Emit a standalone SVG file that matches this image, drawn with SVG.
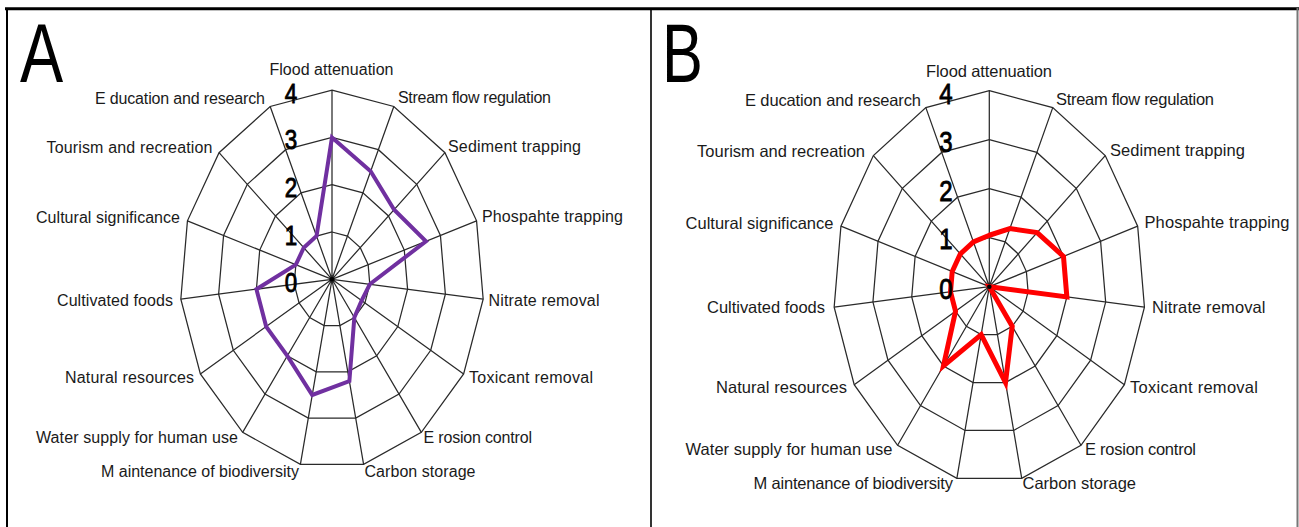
<svg xmlns="http://www.w3.org/2000/svg" xmlns:xlink="http://www.w3.org/1999/xlink" width="1299" height="527" viewBox="0 0 1299 527">
<style>
.grid{fill:none;stroke:#2a2a2a;stroke-width:1.25;vector-effect:non-scaling-stroke}
.lbl{font-family:"Liberation Sans",Arial,sans-serif;font-size:16px;fill:#1a1a1a}
.lblb{font-family:"Liberation Sans",Arial,sans-serif;font-size:16.5px;fill:#1a1a1a}
.num{font-family:"Liberation Sans",Arial,sans-serif;fill:#000;stroke:#000;stroke-width:0.9;text-anchor:middle}
.big{font-family:"Liberation Sans",Arial,sans-serif;font-size:84px;fill:#000}
.dA{fill:none;stroke:#7030A0;stroke-width:4;stroke-linejoin:miter;vector-effect:non-scaling-stroke}
.dB{fill:none;stroke:#FF0000;stroke-width:5;stroke-linejoin:miter;vector-effect:non-scaling-stroke}
.frame{stroke:#000;fill:none}
</style>
<defs>
<polygon id="ring" class="grid" points="0,-1 0.4067,-0.9135 0.7431,-0.6691 0.9511,-0.309 0.9945,0.1045 0.866,0.5 0.5878,0.809 0.2079,0.9781 -0.2079,0.9781 -0.5878,0.809 -0.866,0.5 -0.9945,0.1045 -0.9511,-0.309 -0.7431,-0.6691 -0.4067,-0.9135"/>
<path id="spokes" class="grid" d="M0,0L0,-4M0,0L1.627,-3.6542M0,0L2.9726,-2.6765M0,0L3.8042,-1.2361M0,0L3.9781,0.4181M0,0L3.4641,2M0,0L2.3512,3.2361M0,0L0.8316,3.9126M0,0L-0.8316,3.9126M0,0L-2.3512,3.2361M0,0L-3.4641,2M0,0L-3.9781,0.4181M0,0L-3.8042,-1.2361M0,0L-2.9726,-2.6765M0,0L-1.627,-3.6542"/>
<g id="grid">
<use xlink:href="#ring"/>
<use xlink:href="#ring" transform="scale(2)"/>
<use xlink:href="#ring" transform="scale(3)"/>
<use xlink:href="#ring" transform="scale(4)"/>
<use xlink:href="#spokes"/>
</g>
</defs>
<rect width="1299" height="527" fill="#fff"/>
<g id="frame">
<line class="frame" x1="5" y1="8.7" x2="1299" y2="8.7" stroke-width="3"/>
<line class="frame" x1="7" y1="8" x2="7" y2="527" stroke-width="2"/>
<line class="frame" x1="651" y1="8" x2="651" y2="527" stroke-width="1.6"/>
<line x1="1297.5" y1="8" x2="1297.5" y2="527" stroke="#777" stroke-width="2"/>
</g>
<g id="panel-A">
<text class="big" transform="translate(20,81.5) scale(0.77,1)">A</text>
<g id="chart-A" transform="translate(332,279.3) scale(38,47.3)">
<use xlink:href="#grid"/>
<polygon class="dA" points="0,-3 1.0169,-2.2839 1.6349,-1.4721 2.4728,-0.8035 0.9945,0.1045 0.7794,0.45 0.5878,0.809 0.4574,2.1519 -0.5198,2.4454 -1.1756,1.618 -1.7321,1 -1.989,0.2091 -0.9511,-0.309 -0.7431,-0.6691 -0.4067,-0.9135"/>
</g>
<circle cx="332" cy="279.3" r="2.3" fill="#000"/>
<g id="scale-A">
<text class="num" font-size="28" transform="translate(291,102.5) scale(0.8,1)">4</text>
<text class="num" font-size="28" transform="translate(291,149) scale(0.8,1)">3</text>
<text class="num" font-size="28" transform="translate(291,196.5) scale(0.8,1)">2</text>
<text class="num" font-size="28" transform="translate(291,244.5) scale(0.8,1)">1</text>
<text class="num" font-size="28" transform="translate(291,291.5) scale(0.8,1)">0</text>
</g>
<g id="labels-A">
<text class="lbl" x="269.5" y="75" textLength="124">Flood attenuation</text>
<text class="lbl" x="95" y="104" textLength="170">E ducation and research</text>
<text class="lbl" x="398" y="103" textLength="153">Stream flow regulation</text>
<text class="lbl" x="46.5" y="153" textLength="166">Tourism and recreation</text>
<text class="lbl" x="448" y="152" textLength="133">Sediment trapping</text>
<text class="lbl" x="36" y="223" textLength="144">Cultural significance</text>
<text class="lbl" x="482" y="222" textLength="141">Phospahte trapping</text>
<text class="lbl" x="57" y="306" textLength="116">Cultivated foods</text>
<text class="lbl" x="488.5" y="306" textLength="111">Nitrate removal</text>
<text class="lbl" x="65" y="383" textLength="129">Natural resources</text>
<text class="lbl" x="469" y="383" textLength="124">Toxicant removal</text>
<text class="lbl" x="36" y="443" textLength="202">Water supply for human use</text>
<text class="lbl" x="423.5" y="443" textLength="108.5">E rosion control</text>
<text class="lbl" x="101" y="477" textLength="198">M aintenance of biodiversity</text>
<text class="lbl" x="364.5" y="477" textLength="111">Carbon storage</text>
</g>
</g>
<g id="panel-B">
<text class="big" transform="translate(662,81.5) scale(0.73,1)">B</text>
<g id="chart-B" transform="translate(989.3,286.7) scale(39,49)">
<use xlink:href="#grid"/>
<polygon class="dB" points="0,-1.05 0.5288,-1.1876 1.2262,-1.1041 1.9021,-0.618 1.989,0.2091 0,0 0.5878,0.809 0.4158,1.9563 -0.2079,0.9781 -1.1756,1.618 -0.866,0.5 -0.9945,0.1045 -0.9511,-0.309 -0.7431,-0.6691 -0.4067,-0.9135"/>
</g>
<circle cx="989.3" cy="286.7" r="2.3" fill="#000"/>
<g id="scale-B">
<text class="num" font-size="30" transform="translate(946,104) scale(0.8,1)">4</text>
<text class="num" font-size="30" transform="translate(946,151.5) scale(0.8,1)">3</text>
<text class="num" font-size="30" transform="translate(946,201) scale(0.8,1)">2</text>
<text class="num" font-size="30" transform="translate(946,249) scale(0.8,1)">1</text>
<text class="num" font-size="30" transform="translate(946,298.5) scale(0.8,1)">0</text>
</g>
<g id="labels-B">
<text class="lblb" x="926" y="77" textLength="126">Flood attenuation</text>
<text class="lblb" x="745" y="106" textLength="176">E ducation and research</text>
<text class="lblb" x="1056" y="105" textLength="158">Stream flow regulation</text>
<text class="lblb" x="697" y="157" textLength="168">Tourism and recreation</text>
<text class="lblb" x="1110" y="156" textLength="135">Sediment trapping</text>
<text class="lblb" x="685.5" y="229" textLength="148">Cultural significance</text>
<text class="lblb" x="1144.5" y="228" textLength="145">Phospahte trapping</text>
<text class="lblb" x="707" y="313" textLength="118">Cultivated foods</text>
<text class="lblb" x="1152" y="313" textLength="113.5">Nitrate removal</text>
<text class="lblb" x="716" y="393" textLength="131">Natural resources</text>
<text class="lblb" x="1130" y="393" textLength="128">Toxicant removal</text>
<text class="lblb" x="685.5" y="455" textLength="207">Water supply for human use</text>
<text class="lblb" x="1085" y="455" textLength="111">E rosion control</text>
<text class="lblb" x="753.5" y="489" textLength="199.5">M aintenance of biodiversity</text>
<text class="lblb" x="1022.5" y="489" textLength="113.5">Carbon storage</text>
</g>
</g>
</svg>
